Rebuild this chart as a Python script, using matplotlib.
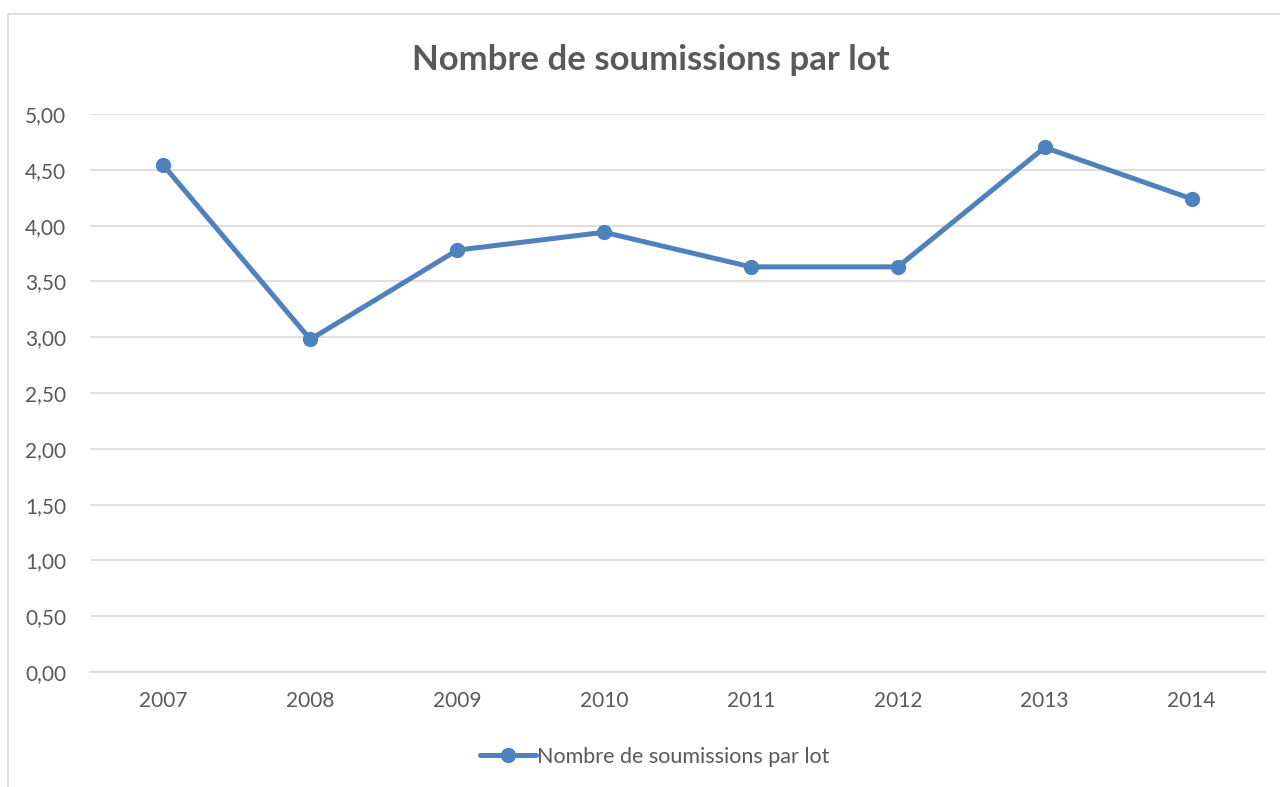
import matplotlib.pyplot as plt
from matplotlib.patches import Rectangle
from matplotlib.ticker import FuncFormatter

# donnees
annees = ["2007", "2008", "2009", "2010", "2011", "2012", "2013", "2014"]
soumissions = [4.54, 2.98, 3.78, 3.94, 3.63, 3.63, 4.70, 4.24]

bleu = "#4F81BD"
gris_texte = "#595959"

plt.rcParams["font.family"] = ["Lato", "DejaVu Sans"]

fig = plt.figure(figsize=(12.8, 7.87), dpi=100)
ax = fig.add_axes([90 / 1280, 1 - 672 / 787, 1175 / 1280, (672 - 114) / 787])

# cadre du graphique (style excel)
fig.patches.append(Rectangle((8 / 1280, -0.05), 1.1, 1.05 - 14 / 787,
                             transform=fig.transFigure, fill=False,
                             edgecolor="#D9D9D9", linewidth=1.2))

x = range(len(annees))
ax.plot(x, soumissions, color=bleu, linewidth=3.6, marker="o",
        markersize=10, label="Nombre de soumissions par lot",
        solid_capstyle="round", zorder=3)

ax.set_xlim(-0.5, len(annees) - 0.5)
ax.set_ylim(0, 5)
ax.set_yticks([i * 0.5 for i in range(11)])
ax.yaxis.set_major_formatter(FuncFormatter(lambda v, p: f"{v:.2f}".replace(".", ",")))
ax.set_xticks(list(x))
ax.set_xticklabels(annees)

ax.grid(axis="y", color="#D9D9D9", linewidth=1.2)
ax.set_axisbelow(True)
for s in ["top", "right", "left"]:
    ax.spines[s].set_visible(False)
ax.spines["bottom"].set_color("#D9D9D9")
ax.spines["bottom"].set_linewidth(1.2)
ax.tick_params(length=0, labelsize=15, colors=gris_texte, pad=17)
ax.tick_params(axis="x", pad=14)

fig.text(651 / 1280, 1 - 60 / 787, "Nombre de soumissions par lot",
         ha="center", va="center", fontsize=25, fontweight="bold", color=gris_texte)

leg = fig.legend(loc="center", bbox_to_anchor=(655 / 1280, 1 - 757 / 787),
                 frameon=False, fontsize=15.5, handlelength=2.6, handletextpad=0.05)
for t in leg.get_texts():
    t.set_color(gris_texte)

fig.savefig("out.png", dpi=100)
